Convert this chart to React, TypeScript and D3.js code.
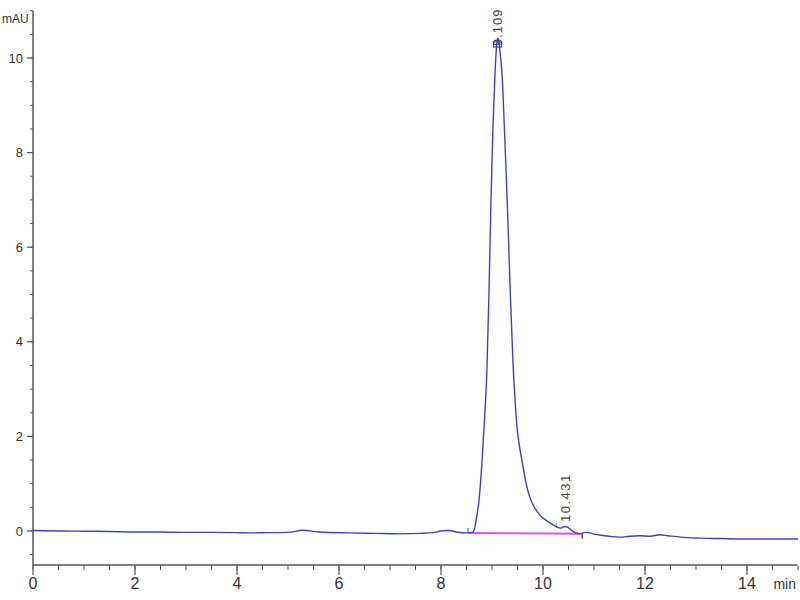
import React from "react";
import * as d3 from "d3";

// Chromatogram trace: retention time (min) and absorbance (mAU)
const times = [
  0, 0.5, 1.0, 1.5, 2.0, 2.5, 3.0, 3.5, 4.0, 4.25, 4.6, 5.0, 5.29, 5.6, 6.2, 6.7, 7.2, 7.6, 7.85, 8.0, 8.15, 8.3, 8.5,
  8.62, 8.66, 8.70, 8.75, 8.80, 8.85, 8.90, 8.94, 8.98, 9.02, 9.06, 9.09, 9.11, 9.13, 9.16, 9.20, 9.24, 9.28, 9.31, 9.36,
  9.41, 9.45, 9.49, 9.55, 9.61, 9.68, 9.76, 9.86, 9.96, 10.08, 10.2, 10.28, 10.34, 10.39, 10.43, 10.48, 10.55,
  10.64, 10.73, 10.82, 10.92, 11.02, 11.15, 11.35, 11.51, 11.7, 11.9, 12.1, 12.29, 12.45, 12.7, 13.08, 13.5, 14.06, 14.5, 15.0,
];
const mAU = [
  0.01, 0.0, -0.005, -0.01, -0.02, -0.02, -0.03, -0.03, -0.035, -0.04, -0.035, -0.03, 0.015, -0.02, -0.04, -0.05, -0.06, -0.05, -0.035, 0.0, 0.01, -0.02, -0.04,
  -0.03, 0.06, 0.3, 0.7, 1.4, 2.3, 3.4, 5.0, 7.0, 8.6, 9.7, 10.25, 10.42, 10.38, 10.1, 9.6, 8.6, 7.5, 6.6, 5.0,
  3.6, 2.8, 2.2, 1.72, 1.35, 0.95, 0.66, 0.45, 0.31, 0.21, 0.13, 0.08, 0.06, 0.08, 0.095, 0.08, 0.02,
  -0.04, -0.06, -0.03, -0.04, -0.07, -0.09, -0.12, -0.13, -0.11, -0.1, -0.11, -0.08, -0.1, -0.13, -0.15, -0.16, -0.17, -0.17, -0.17,
];

// Integration baseline (start/end) and peak labels
const baselineTimes = [8.53, 10.73];
const baselineValues = [-0.04, -0.06];
const peakTimes = [9.109, 10.431];
const peakLabels = ["9.109", "10.431"];
const peakSplitTime = 10.26;

const xTicks = [0, 2, 4, 6, 8, 10, 12, 14];
const yTicks = [0, 2, 4, 6, 8, 10];

const FONT = "'Liberation Sans Narrow', 'Liberation Sans', Arial, sans-serif";

export default function App() {
  const x = d3.scaleLinear().domain([0, 15]).range([33, 798]);
  const y = d3.scaleLinear().domain([0, 10]).range([531, 58]);
  const axisY = y(-0.72);
  const axisTop = y(11);

  const pts: [number, number][] = times.map((t, i) => [t, mAU[i]]);
  const line = d3
    .line<[number, number]>()
    .x((d) => x(d[0]))
    .y((d) => y(d[1]))
    .curve(d3.curveMonotoneX);

  const xMinor = d3.range(0, 15.01, 0.5);
  const yMinor = d3.range(-0.5, 11.01, 0.5);

  const interp = (t: number) => {
    const i = d3.bisectLeft(times, t);
    if (i <= 0) return mAU[0];
    const t0 = times[i - 1], t1 = times[i];
    return mAU[i - 1] + ((mAU[i] - mAU[i - 1]) * (t - t0)) / (t1 - t0);
  };

  return (
    <svg
      width={800}
      height={600}
      style={{ position: "absolute", left: 0, top: 0, background: "#fff" }}
    >
      <rect x={0} y={0} width={800} height={600} fill="#fff" />
      {/* axes */}
      <line x1={33} x2={33} y1={axisTop} y2={axisY} stroke="#555" strokeWidth={1.5} />
      <line x1={33} x2={797} y1={axisY} y2={axisY} stroke="#555" strokeWidth={1.5} />
      {yMinor.map((v) => (
        <line key={"ym" + v} x1={30} x2={33} y1={y(v)} y2={y(v)} stroke="#555" strokeWidth={1} />
      ))}
      {yTicks.map((v) => (
        <g key={"yt" + v}>
          <line x1={27} x2={33} y1={y(v)} y2={y(v)} stroke="#555" strokeWidth={1.2} />
          <text x={23} y={y(v) + 4.5} textAnchor="end" fontFamily={FONT} fontSize={13} fill="#333">
            {v}
          </text>
        </g>
      ))}
      {xMinor.map((v) => (
        <line key={"xm" + v} x1={x(v)} x2={x(v)} y1={axisY} y2={axisY + 5} stroke="#555" strokeWidth={1} />
      ))}
      {xTicks.map((v) => (
        <g key={"xt" + v}>
          <line x1={x(v)} x2={x(v)} y1={axisY} y2={axisY + 10} stroke="#555" strokeWidth={1.2} />
          <text x={x(v)} y={589} textAnchor="middle" fontFamily={FONT} fontSize={16} fill="#333">
            {v}
          </text>
        </g>
      ))}
      <text x={2} y={23} fontFamily={FONT} fontSize={12} fill="#333">
        mAU
      </text>
      <text x={796} y={589} textAnchor="end" fontFamily={FONT} fontSize={14} fill="#333">
        min
      </text>

      {/* integration baseline */}
      <line
        x1={x(baselineTimes[0])}
        x2={x(baselineTimes[1])}
        y1={y(baselineValues[0])}
        y2={y(baselineValues[1])}
        stroke="#e040e0"
        strokeWidth={2}
        opacity={0.9}
      />
      <line
        x1={x(baselineTimes[0])}
        x2={x(baselineTimes[0])}
        y1={y(baselineValues[0]) - 5}
        y2={y(baselineValues[0])}
        stroke="#555"
        strokeWidth={1}
      />
      <line
        x1={x(baselineTimes[1]) + 2}
        x2={x(baselineTimes[1]) + 2}
        y1={y(baselineValues[1])}
        y2={y(baselineValues[1]) + 5}
        stroke="#555"
        strokeWidth={1.5}
      />
      <line
        x1={x(peakSplitTime)}
        x2={x(peakSplitTime)}
        y1={y(interp(peakSplitTime)) - 3}
        y2={y(interp(peakSplitTime)) + 1}
        stroke="#777"
        strokeWidth={1}
      />

      {/* trace */}
      <path d={line(pts) ?? ""} fill="none" stroke="#4040c4" strokeWidth={1.4} />

      {/* peak labels */}
      <text
        transform={`translate(${x(peakTimes[0]) + 4},${46}) rotate(-90)`}
        fontFamily={FONT}
        fontSize={13}
        letterSpacing={1}
        fill="#444"
      >
        {peakLabels[0]}
      </text>
      <rect x={x(peakTimes[0]) - 4} y={42} width={8} height={5} fill="none" stroke="#4040c4" strokeWidth={1.2} />
      <text
        transform={`translate(${x(peakTimes[1]) + 5},${522}) rotate(-90)`}
        fontFamily={FONT}
        fontSize={13}
        letterSpacing={1.5}
        fill="#444"
      >
        {peakLabels[1]}
      </text>
    </svg>
  );
}
